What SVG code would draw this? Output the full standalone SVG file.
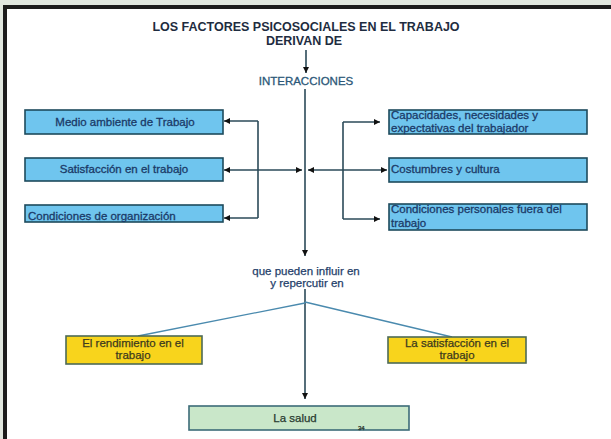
<svg xmlns="http://www.w3.org/2000/svg" width="611" height="439" viewBox="0 0 611 439">
<defs>
<style>
.t{font-family:"Liberation Sans",Arial,sans-serif;}
.title{font-size:12.5px;font-weight:bold;fill:#1e2c40;}
.blue rect{fill:#6fc5ee;stroke:#1d4a5c;stroke-width:1.6;}
.blue text{font-size:11.5px;fill:#1b3a68;stroke:#1b3a68;stroke-width:0.3;}
.yel rect{fill:#f8d41c;stroke:#4d6a56;stroke-width:1.6;}
.yel text{font-size:11.5px;fill:#3c3a1e;stroke:#3c3a1e;stroke-width:0.25;}
.grn rect{fill:#c9e7c9;stroke:#3c6c78;stroke-width:1.6;}
.grn text{font-size:11.5px;fill:#283a30;stroke:#283a30;stroke-width:0.25;}
.lbl{font-size:11.5px;fill:#1f3e6a;stroke:#1f3e6a;stroke-width:0.25;}
.c{fill:none;stroke:#2b4a58;stroke-width:1.6;}
.d{fill:none;stroke:#4a8aae;stroke-width:1.3;}
</style>
<marker id="ah" viewBox="0 0 6 6" refX="6" refY="3" markerWidth="6" markerHeight="6" markerUnits="userSpaceOnUse" orient="auto-start-reverse">
<path d="M0,0 L6,3 L0,6 z" fill="#111"/>
</marker>
</defs>
<rect x="0" y="0" width="611" height="439" fill="#ffffff"/>
<rect x="0" y="0" width="611" height="5" fill="#e1e7df"/>
<rect x="0" y="5" width="3" height="434" fill="#e1e7df"/>
<rect x="3" y="5" width="608" height="4" fill="#1c1c1c"/>
<rect x="3" y="5" width="4" height="434" fill="#1c1c1c"/>

<g id="title" class="t">
<text class="title" x="306" y="31" text-anchor="middle">LOS FACTORES PSICOSOCIALES EN EL TRABAJO</text>
<text class="title" x="304" y="45" text-anchor="middle">DERIVAN DE</text>
</g>
<g id="interacciones" class="t">
<text x="306" y="85" text-anchor="middle" style="font-size:11.5px;fill:#2c5878;stroke:#2c5878;stroke-width:0.3;">INTERACCIONES</text>
</g>
<g id="influir" class="t">
<text class="lbl" x="306" y="275" text-anchor="middle">que pueden influir en</text>
<text class="lbl" x="307" y="287" text-anchor="middle">y repercutir en</text>
</g>

<g id="connectors">
<line class="c" x1="306" y1="50" x2="306" y2="73" marker-end="url(#ah)"/>
<line class="c" x1="305" y1="89" x2="305" y2="256" marker-end="url(#ah)"/>
<line class="c" x1="305" y1="289" x2="305" y2="399" marker-end="url(#ah)"/>
<path class="c" d="M258,121 V218"/>
<line class="c" x1="258" y1="121" x2="224" y2="121" marker-end="url(#ah)"/>
<line class="c" x1="258" y1="218" x2="224" y2="218" marker-end="url(#ah)"/>
<line class="c" x1="224" y1="170" x2="302" y2="170" marker-start="url(#ah)" marker-end="url(#ah)"/>
<line class="c" x1="308" y1="170" x2="387" y2="170" marker-start="url(#ah)" marker-end="url(#ah)"/>
<path class="c" d="M343,122 V219"/>
<line class="c" x1="343" y1="122" x2="380" y2="122" marker-end="url(#ah)"/>
<line class="c" x1="343" y1="219" x2="380" y2="219" marker-end="url(#ah)"/>
<line class="d" x1="305" y1="303" x2="138" y2="336"/>
<line class="d" x1="305" y1="302" x2="452" y2="337"/>
</g>

<g id="medio" class="blue t">
<rect x="25" y="110" width="198" height="24"/>
<text x="125" y="126" text-anchor="middle">Medio ambiente de Trabajo</text>
</g>
<g id="satisfaccion" class="blue t">
<rect x="25" y="158" width="198" height="23"/>
<text x="124" y="173" text-anchor="middle">Satisfacción en el trabajo</text>
</g>
<g id="condiciones" class="blue t">
<rect x="25" y="205" width="198" height="17"/>
<text x="28" y="220">Condiciones de organización</text>
</g>
<g id="capacidades" class="blue t">
<rect x="389" y="110" width="198" height="24"/>
<text x="391" y="119">Capacidades, necesidades y</text>
<text x="391" y="132">expectativas del trabajador</text>
</g>
<g id="costumbres" class="blue t">
<rect x="389" y="158" width="198" height="24"/>
<text x="391" y="173">Costumbres y cultura</text>
</g>
<g id="personales" class="blue t">
<rect x="389" y="204" width="198" height="26"/>
<text x="391" y="213">Condiciones personales fuera del</text>
<text x="391" y="227">trabajo</text>
</g>
<g id="rendimiento" class="yel t">
<rect x="66" y="336" width="136" height="28"/>
<text x="133" y="347" text-anchor="middle">El rendimiento en el</text>
<text x="133" y="359" text-anchor="middle">trabajo</text>
</g>
<g id="satisfaccion2" class="yel t">
<rect x="388" y="337" width="138" height="26"/>
<text x="457" y="347" text-anchor="middle">La satisfacción en el</text>
<text x="457" y="359" text-anchor="middle">trabajo</text>
</g>
<g id="salud" class="grn t">
<rect x="189" y="406" width="220" height="24"/>
<text x="295" y="422" text-anchor="middle">La salud</text>
<text x="358" y="430" style="font-size:6px;fill:#222;">34</text>
</g>
</svg>
